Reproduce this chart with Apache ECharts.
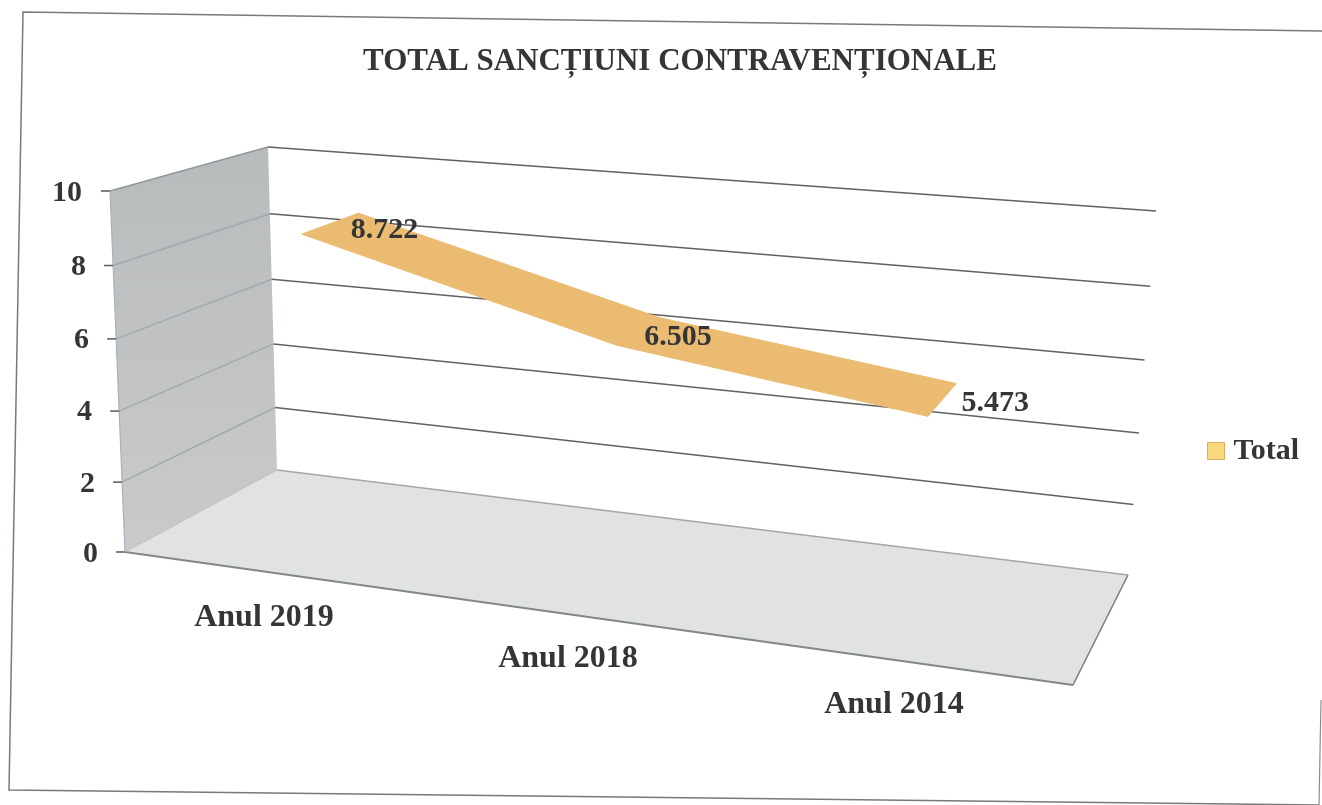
<!DOCTYPE html>
<html>
<head>
<meta charset="utf-8">
<style>html,body{margin:0;padding:0;background:#fff}#c{width:1322px;height:805px}</style>
<script src="https://cdn.jsdelivr.net/npm/echarts@6/dist/echarts.min.js"></script>
</head>
<body>
<div id="c"></div>
<script>
// ---- data ----
const chartTitle = 'TOTAL SANCȚIUNI CONTRAVENȚIONALE';
const seriesName = 'Total';
const categories = ['Anul 2019', 'Anul 2018', 'Anul 2014'];
const totalValues = [8.722, 6.505, 5.473];
const yTickValues = [0, 2, 4, 6, 8, 10];

// ---- oblique box projection: (across, depth, height), each 0..1, to page pixels ----
const corners = {
  floorFL: [125, 552], floorFR: [1073, 685], floorBL: [277, 470], floorBR: [1128, 575],
  topFL: [110, 191], topFR: [1110, 278], topBL: [268, 147], topBR: [1156, 211]
};
const lerp = (a, b, t) => [a[0] + (b[0] - a[0]) * t, a[1] + (b[1] - a[1]) * t];
const heightCurve = v => v - 0.04 * v * (1 - v);
function project(u, d, v) {
  const bottom = lerp(lerp(corners.floorFL, corners.floorFR, u), lerp(corners.floorBL, corners.floorBR, u), d);
  const top = lerp(lerp(corners.topFL, corners.topFR, u), lerp(corners.topBL, corners.topBR, u), d);
  return lerp(bottom, top, heightCurve(v));
}
const ribbon = { front: 0.38, back: 0.78, shift: -0.03, drop: 2.5 };
const labelNudge = [[26, 17], [19, 20], [39, 20]];
const yLabelNudge = { 10: [16, 4], 8: [12, 9], 6: [9, 9], 4: [6, 9], 2: [3, 8], 0: [0, 4] };
const xLabelNudge = [[11, 0], [33, 41], [11, 87]];

const GRID = { left: 112, right: 265, top: 191, bottom: 253 };
const serif = '"Liberation Serif","Times New Roman",serif';
const ink = '#333537';

// normalised position of a data point, read through the chart's own axes
function toUnit(api, params, i, value) {
  const p = api.coord([i, value]);
  const cs = params.coordSys;
  return [(p[0] - cs.x) / cs.width, (cs.y + cs.height - p[1]) / cs.height];
}
const poly = (pts, style, z2) => ({ type: 'polygon', shape: { points: pts }, style, z2: z2 || 0, silent: true });
const line = (a, b, stroke, lineWidth, z2) => ({
  type: 'line', shape: { x1: a[0], y1: a[1], x2: b[0], y2: b[1] },
  style: { stroke, lineWidth, fill: null }, z2: z2 || 0, silent: true
});

function renderBox(params, api) {
  const kids = [];
  // left wall
  kids.push(poly([project(0,0,0), project(0,1,0), project(0,1,1), project(0,0,1)], {
    fill: new echarts.graphic.LinearGradient(0, 0, 0, 1, [
      { offset: 0, color: '#b8bbbc' }, { offset: 1, color: '#c9cbca' }])
  }, 1));
  // floor
  kids.push(poly([project(0,0,0), project(1,0,0), project(1,1,0), project(0,1,0)], { fill: '#e1e2e2' }, 1));
  yTickValues.forEach(t => {
    const v = toUnit(api, params, 0, t)[1];
    if (t > 0) {
      kids.push(line(project(0,0,v), project(0,1,v), t === 10 ? '#8f969b' : '#a2a8ac', 1.5, 2));
      kids.push(line(project(0,1,v), project(1,1,v), '#5f6163', 1.5, 2));
    }
    const f = project(0,0,v);
    kids.push(line([f[0] - 9, f[1]], f, '#55585a', 1.5, 3));
  });
  kids.push(line(project(0,1,0), project(1,1,0), '#a4a6a8', 1.5, 2));
  kids.push(line(project(0,0,0), project(1,0,0), '#83878a', 1.8, 2));
  kids.push(line(project(1,0,0), project(1,1,0), '#7c7f81', 1.5, 2));
  kids.push(line(project(0,0,0), project(0,1,0), '#bcbfbf', 1, 2));
  kids.push(line(project(0,0,0), project(0,0,1), '#a9b2bb', 1.2, 2));
  return { type: 'group', children: kids };
}

function renderRibbon(params, api) {
  const i = api.value(0), val = api.value(1);
  const kids = [];
  const at = (idx, value, d) => {
    const n = toUnit(api, params, idx, value);
    const p = project(n[0] + ribbon.shift, d, n[1]);
    return [p[0], p[1] + ribbon.drop];
  };
  if (i < totalValues.length - 1) {
    const next = totalValues[i + 1];
    const col = '#ebbb72';
    kids.push(poly([at(i, val, ribbon.front), at(i + 1, next, ribbon.front), at(i + 1, next, ribbon.back), at(i, val, ribbon.back)],
      { fill: col, stroke: col, lineWidth: 1 }, 5));
  }
  const anchor = at(i, val, ribbon.back);
  kids.push({
    type: 'text', z2: 20, silent: true,
    style: {
      x: anchor[0] + labelNudge[i][0], y: anchor[1] + labelNudge[i][1],
      text: val.toFixed(3), fill: ink, font: 'bold 30px ' + serif, align: 'center', verticalAlign: 'middle'
    }
  });
  return { type: 'group', children: kids };
}

const labelFont = { fontFamily: serif, fontWeight: 'bold', fontSize: 30, color: ink };
const yRich = {}, xRich = {};
yTickValues.forEach(t => {
  yRich['y' + t] = Object.assign({}, labelFont, { padding: [yLabelNudge[t][1], yLabelNudge[t][0], 0, 0] });
});
categories.forEach((c, i) => {
  xRich['x' + i] = Object.assign({}, labelFont, { fontSize: 32, padding: [xLabelNudge[i][1], xLabelNudge[i][0], 0, 0] });
});

const chart = echarts.init(document.getElementById('c'), null, { renderer: 'canvas' });
chart.setOption({
  animation: false,
  backgroundColor: '#ffffff',
  title: {
    text: chartTitle, left: 675, top: 41, textAlign: 'center',
    textStyle: { fontFamily: serif, fontWeight: 'bold', fontSize: 31, color: ink }
  },
  legend: {
    data: [{ name: seriesName, icon: 'rect', itemStyle: { color: '#f8da7c', borderColor: '#e3a862', borderWidth: 1 } }],
    left: 1202, top: 431, itemWidth: 17, itemHeight: 17, selectedMode: false,
    textStyle: { fontFamily: serif, fontWeight: 'bold', fontSize: 30, color: ink, padding: [0, 0, 0, 4] }
  },
  grid: GRID,
  xAxis: {
    type: 'category', data: categories,
    axisLine: { show: false }, axisTick: { show: false }, splitLine: { show: false },
    axisLabel: { interval: 0, margin: 50, hideOverlap: false, showMinLabel: true, showMaxLabel: true,
      formatter: (v, i) => '{x' + i + '|' + v + '}', rich: xRich }
  },
  yAxis: {
    type: 'value', min: 0, max: 10, interval: 2,
    axisLine: { show: false }, axisTick: { show: false }, splitLine: { show: false },
    axisLabel: { margin: 14, formatter: v => '{y' + v + '|' + v + '}', rich: yRich }
  },
  graphic: [{
    type: 'polyline', silent: true, z: -1,
    shape: { points: [[1322, 31], [23, 12], [9, 790], [1319, 805]] },
    style: { stroke: '#77797b', lineWidth: 1.5, fill: null }
  }, {
    type: 'line', silent: true, z: -1,
    shape: { x1: 1321, y1: 700, x2: 1319, y2: 805 },
    style: { stroke: '#8a8c8e', lineWidth: 1.2 }
  }],
  series: [
    { type: 'custom', name: 'Plot box', coordinateSystem: 'cartesian2d', data: [[0, 0]], renderItem: renderBox, silent: true, z: 1, encode: { x: 0, y: 1 } },
    { type: 'custom', name: seriesName, coordinateSystem: 'cartesian2d',
      data: totalValues.map((v, i) => [i, v]), renderItem: renderRibbon, silent: true, z: 2, encode: { x: 0, y: 1 },
      itemStyle: { color: '#f8da7c' } }
  ]
});
</script>
</body>
</html>
